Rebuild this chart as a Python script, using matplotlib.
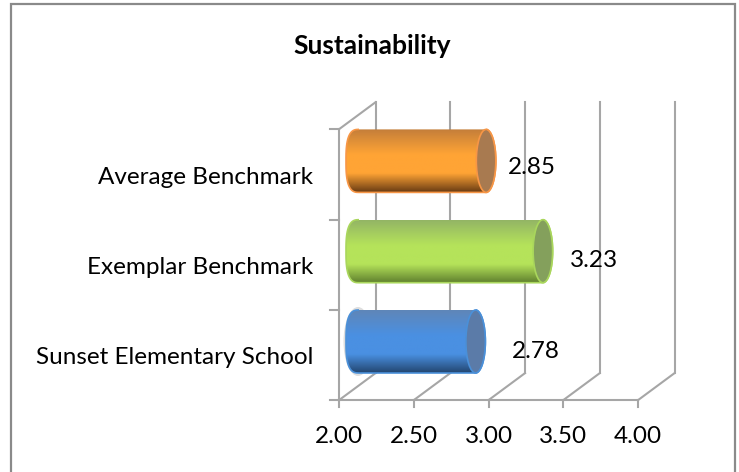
import matplotlib
matplotlib.use('Agg')
import matplotlib.pyplot as plt
import numpy as np
from matplotlib.patches import Ellipse, PathPatch, Rectangle
from matplotlib.path import Path

categories = ['Sunset Elementary School', 'Exemplar Benchmark', 'Average Benchmark']
values = [2.78, 3.23, 2.85]
xticks = [2.0, 2.5, 3.0, 3.5, 4.0]
title = 'Sustainability'

W, H = 739, 472
plt.rcParams['font.family'] = ['Lato', 'DejaVu Sans']

# one data unit in pixels, axes fills the figure
PX_X = 149.5
PX_Y = 90.3


def dx(px):
    return px / PX_X


def dy(px):
    return px / PX_Y


fig = plt.figure(figsize=(W / 100, H / 100), dpi=100)
ax = fig.add_axes([0, 0, 1, 1])
ax.axis('off')
xlim = (2 - dx(339), 2 + dx(W - 339))
ylim = (-dy(H - 355), dy(355))

grid = '#a6a6a6'
# outer frame, bottom edge is cut off in the picture
ax.add_patch(Rectangle((xlim[0] + dx(11), ylim[0] - dy(10)), dx(724), dy(478),
                       fill=False, ec='#8a8a8a', lw=1.6, zorder=1))

# walls and floor
depth_x, depth_y = dx(36.5), dy(27)
y0, y1 = -0.5, 2.5
for t in xticks:
    ax.plot([t, t + depth_x], [y0, y0 + depth_y], color=grid, lw=1.5, zorder=2)
    ax.plot([t + depth_x, t + depth_x], [y0 + depth_y, y1 + depth_y], color=grid, lw=1.5, zorder=2)
    ax.plot([t, t], [y0, y0 - dy(7)], color=grid, lw=1.5, zorder=2)
    ax.text(t, y0 - dy(36), '%.2f' % t, ha='center', va='center', fontsize=17.5, zorder=6)
ax.plot([xticks[0], xticks[-1]], [y0, y0], color=grid, lw=1.5, zorder=2)
ax.plot([xticks[0], xticks[0]], [y0, y1], color=grid, lw=1.5, zorder=2)
ax.plot([xticks[0], xticks[0] + depth_x], [y1, y1 + depth_y], color=grid, lw=1.5, zorder=2)
for i in range(len(categories) + 1):
    ax.plot([2 - dx(9), 2], [i - 0.5, i - 0.5], color=grid, lw=1.5, zorder=2)

# colours: edge, dark, mid, top, cap
colors = [
    ('#4a90d9', '#23466f', '#4a90e2', '#5f86b8', '#5b7ba8'),
    ('#a9d65c', '#5f7f2e', '#b5e35a', '#93b565', '#84a05c'),
    ('#f79646', '#6b3d14', '#ffa435', '#c47e3a', '#a87a50'),
]
label_dx = [60, 51, 46]
label_dy = [-9.5, -9, -7]

half_h = dy(31.5)
cap_w = dx(19.5)
left_w = dx(26)

for i, (cat, val) in enumerate(zip(categories, values)):
    yc = i + dy(13.5)
    xs = 2 + dx(20)
    xe = val + dx(20)
    edge, dark, mid, top, cap = colors[i]

    ax.text(2 - dx(26), i - dy(3), cat, ha='right', va='center', fontsize=17.5, zorder=6)

    if i == 0:
        ax.add_patch(Ellipse((xs - dx(1), yc), left_w + dx(3), half_h * 2 + dy(6),
                             fc='#c8c8c8', ec='none', alpha=0.6, zorder=3))

    # cylinder outline: rounder left end + body + right half ellipse
    t1 = np.linspace(np.pi / 2, 3 * np.pi / 2, 40)
    t2 = np.linspace(-np.pi / 2, np.pi / 2, 40)
    left_x = xs - left_w / 2 * np.abs(np.cos(t1)) ** 0.7
    left_y = yc + half_h * np.sign(np.sin(t1)) * np.abs(np.sin(t1)) ** 0.7
    px = np.r_[left_x, xe + cap_w / 2 * np.cos(t2)]
    py = np.r_[left_y, yc + half_h * np.sin(t2)]
    path = Path(np.c_[px, py], closed=False)
    clip = PathPatch(path, transform=ax.transData, fc='none', ec=edge, lw=1.2, zorder=5)
    ax.add_patch(clip)

    grad = matplotlib.colors.LinearSegmentedColormap.from_list(
        'g', [(0, dark), (0.3, mid), (0.6, mid), (1, top)], N=128)
    stops = np.linspace(0, 1, 128).reshape(-1, 1)
    im = ax.imshow(stops, cmap=grad, aspect='auto', zorder=4,
                   extent=(xs - left_w, xe + cap_w, yc - half_h, yc + half_h), origin='lower')
    im.set_clip_path(clip)

    ax.add_patch(Ellipse((xe, yc), cap_w, half_h * 2, fc=cap, ec=edge, lw=1.2, zorder=5))

    ax.text(xe + dx(label_dx[i]), yc + dy(label_dy[i]), '%.2f' % val,
            ha='center', va='center', fontsize=17.5, zorder=6)

ax.text(2 + dx(33), ylim[1] - dy(46), title, ha='center', va='center',
        fontsize=19, fontweight='bold', zorder=6)

ax.set_xlim(xlim)
ax.set_ylim(ylim)
fig.savefig('out.png', dpi=100)
